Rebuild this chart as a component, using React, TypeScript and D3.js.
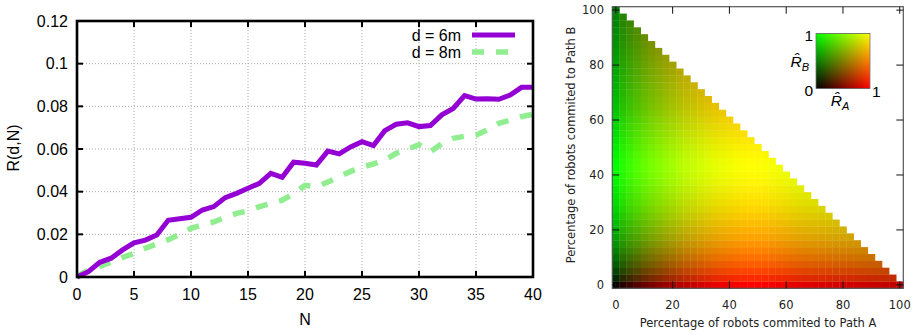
import React from "react";
import * as d3 from "d3";

// ---------- Left chart data ----------
const N_VALUES: number[] = d3.range(0, 41);
const R_D6: number[] = [
  0, 0.0025, 0.0069, 0.0088, 0.0127, 0.016, 0.0173, 0.0197, 0.0266, 0.0273,
  0.028, 0.0314, 0.033, 0.0372, 0.0392, 0.0416, 0.0439, 0.0486, 0.0467, 0.0538,
  0.0533, 0.0525, 0.059, 0.0577, 0.061, 0.0634, 0.0616, 0.0686, 0.0716, 0.0723,
  0.0705, 0.071, 0.076, 0.079, 0.085, 0.0834, 0.0835, 0.0833, 0.0853, 0.0889,
  0.089,
];
const R_D8: number[] = [
  0.0005, 0.003, 0.005, 0.007, 0.0092, 0.011, 0.0135, 0.0155, 0.0175, 0.02,
  0.0228, 0.0245, 0.0258, 0.028, 0.0298, 0.031, 0.033, 0.0345, 0.036, 0.039,
  0.043, 0.0423, 0.0445, 0.047, 0.0495, 0.0515, 0.053, 0.0548, 0.058, 0.06,
  0.062, 0.0587, 0.0625, 0.065, 0.066, 0.0665, 0.069, 0.072, 0.0735, 0.0752,
  0.0763,
];
const LEFT_X_TICKS = [0, 5, 10, 15, 20, 25, 30, 35, 40];
const LEFT_Y_TICKS = [0, 0.02, 0.04, 0.06, 0.08, 0.1, 0.12];
const SERIES_LABELS = ["d = 6m", "d = 8m"];

// ---------- Right chart data ----------
// Percentages committed to path A (columns) / path B (rows), step 2.5
const PCT_STEPS: number[] = d3.range(0, 41).map((i) => i * 2.5);
// Normalised performance of path A for each column (red channel)
const RHAT_A: number[] = [
  0.0, 0.15, 0.24, 0.32, 0.4, 0.47, 0.53, 0.59, 0.64, 0.7, 0.75, 0.79, 0.83,
  0.87, 0.9, 0.93, 0.95, 0.97, 0.99, 1.0, 1.0, 0.99, 0.97, 0.95, 0.93, 0.91,
  0.89, 0.88, 0.87, 0.86, 0.85, 0.84, 0.83, 0.82, 0.81, 0.8, 0.79, 0.78, 0.77,
  0.76, 0.74,
];
// Normalised performance of path B for each row (green channel)
const RHAT_B: number[] = [
  0.0, 0.16, 0.27, 0.36, 0.44, 0.51, 0.58, 0.64, 0.69, 0.74, 0.79, 0.83, 0.87,
  0.9, 0.93, 0.96, 0.98, 1.0, 0.99, 0.97, 0.94, 0.91, 0.88, 0.85, 0.82, 0.79,
  0.76, 0.74, 0.72, 0.7, 0.68, 0.66, 0.64, 0.62, 0.6, 0.58, 0.56, 0.55, 0.53,
  0.52, 0.5,
];
const RIGHT_TICKS = [0, 20, 40, 60, 80, 100];

export default function App() {
  // Left chart scales
  const x = d3.scaleLinear().domain([0, 40]).range([77, 533]);
  const y = d3.scaleLinear().domain([0, 0.12]).range([277, 21]);
  const line = d3
    .line<number>()
    .x((_, i) => x(N_VALUES[i]))
    .y((d) => y(d));

  // Right chart scales
  const xr = d3.scaleLinear().domain([-1.25, 101.25]).range([612.3, 903.3]);
  const yr = d3.scaleLinear().domain([-1.25, 101.25]).range([288.3, 6.7]);

  const cells: { key: string; x0: number; x1: number; y0: number; y1: number; fill: string }[] = [];
  PCT_STEPS.forEach((a, j) => {
    PCT_STEPS.forEach((b, k) => {
      if (j + k > 40) return;
      cells.push({
        key: `${j}-${k}`,
        x0: xr(a - 1.25),
        x1: xr(a + 1.25),
        y0: yr(b + 1.25),
        y1: yr(b - 1.25),
        fill: d3.rgb(RHAT_A[j] * 255, RHAT_B[k] * 255, 0).toString(),
      });
    });
  });

  const leftFont = "'Liberation Sans', Arial, sans-serif";
  const rightFont = "'DejaVu Sans', sans-serif";

  // legend inset
  const lg = { x: 816, y: 33.5, w: 54, h: 55 };

  return (
    <svg
      width={916}
      height={335}
      style={{ position: "absolute", left: 0, top: 0, background: "#fff" }}
    >
      <defs>
        <linearGradient id="gradR" x1="0" y1="0" x2="1" y2="0">
          <stop offset="0" stopColor="#000" />
          <stop offset="1" stopColor="#f00" />
        </linearGradient>
        <linearGradient id="gradG" x1="0" y1="1" x2="0" y2="0">
          <stop offset="0" stopColor="#000" />
          <stop offset="1" stopColor="#0f0" />
        </linearGradient>
      </defs>

      {/* ================= LEFT CHART ================= */}
      <g fontFamily={leftFont} fontSize={16} fill="#000">
        {/* grid */}
        {LEFT_X_TICKS.slice(1, -1).map((t) => (
          <line key={"gx" + t} x1={x(t)} x2={x(t)} y1={y(0)} y2={y(0.12)} stroke="#aaa" strokeWidth={1} strokeDasharray="1,2" />
        ))}
        {LEFT_Y_TICKS.slice(1, -1).map((t) => (
          <line key={"gy" + t} x1={x(0)} x2={x(40)} y1={y(t)} y2={y(t)} stroke="#aaa" strokeWidth={1} strokeDasharray="1,2" />
        ))}

        {/* series */}
        <path d={line(R_D8) || ""} fill="none" stroke="#90ee90" strokeWidth={5.5} strokeDasharray="12,12" />
        <path d={line(R_D6) || ""} fill="none" stroke="#9400d3" strokeWidth={5} strokeLinejoin="miter" />

        {/* ticks */}
        {LEFT_X_TICKS.map((t) => (
          <g key={"tx" + t}>
            <line x1={x(t)} x2={x(t)} y1={y(0)} y2={y(0) - 6} stroke="#000" strokeWidth={2} />
            <line x1={x(t)} x2={x(t)} y1={y(0.12)} y2={y(0.12) + 6} stroke="#000" strokeWidth={2} />
            <text x={x(t)} y={300} textAnchor="middle">{t}</text>
          </g>
        ))}
        {LEFT_Y_TICKS.map((t) => (
          <g key={"ty" + t}>
            <line x1={x(0)} x2={x(0) + 6} y1={y(t)} y2={y(t)} stroke="#000" strokeWidth={2} />
            <line x1={x(40)} x2={x(40) - 6} y1={y(t)} y2={y(t)} stroke="#000" strokeWidth={2} />
            <text x={68} y={y(t) + 5.5} textAnchor="end">{t === 0 ? "0" : String(t)}</text>
          </g>
        ))}

        {/* frame */}
        <rect x={x(0)} y={y(0.12)} width={x(40) - x(0)} height={y(0) - y(0.12)} fill="none" stroke="#000" strokeWidth={2.6} />

        {/* axis titles */}
        <text x={305} y={325} textAnchor="middle">N</text>
        <text transform="translate(19,148) rotate(-90)" textAnchor="middle">R(d,N)</text>

        {/* legend */}
        <text x={461} y={40.5} textAnchor="end">{SERIES_LABELS[0]}</text>
        <text x={461} y={57.5} textAnchor="end">{SERIES_LABELS[1]}</text>
        <line x1={472} x2={515} y1={35} y2={35} stroke="#9400d3" strokeWidth={5} />
        <line x1={472} x2={515} y1={52} y2={52} stroke="#90ee90" strokeWidth={5.5} strokeDasharray="12,12" />
      </g>

      {/* ================= RIGHT CHART ================= */}
      <g fontFamily={rightFont} fontSize={11.5} fill="#222">
        {cells.map((c) => (
          <rect key={c.key} x={c.x0} y={c.y0} width={c.x1 - c.x0 + 0.3} height={c.y1 - c.y0 + 0.3} fill={c.fill} />
        ))}

        {/* frame */}
        <rect x={612.3} y={6.7} width={903.3 - 612.3} height={288.3 - 6.7} fill="none" stroke="#555" strokeWidth={1.2} />

        {/* ticks */}
        {RIGHT_TICKS.map((t) => (
          <g key={"rt" + t}>
            <line x1={xr(t)} x2={xr(t)} y1={288.3} y2={288.3 - 7} stroke="#111" strokeWidth={1} />
            <line x1={xr(t)} x2={xr(t)} y1={6.7} y2={6.7 + 7} stroke="#111" strokeWidth={1} />
            <line x1={612.3} x2={612.3 + 7} y1={yr(t)} y2={yr(t)} stroke="#111" strokeWidth={1} />
            <line x1={903.3} x2={903.3 - 7} y1={yr(t)} y2={yr(t)} stroke="#111" strokeWidth={1} />
            <text x={xr(t)} y={309} textAnchor="middle">{t}</text>
            <text x={604} y={yr(t) + 4} textAnchor="end">{t}</text>
          </g>
        ))}

        {/* axis titles */}
        <text x={758} y={327} textAnchor="middle">Percentage of robots commited to Path A</text>
        <text transform="translate(575,145) rotate(-90)" textAnchor="middle">Percentage of robots commited to Path B</text>

        {/* inset colour key */}
        <g style={{ isolation: "isolate" }}>
          <rect x={lg.x} y={lg.y} width={lg.w} height={lg.h} fill="#000" />
          <rect x={lg.x} y={lg.y} width={lg.w} height={lg.h} fill="url(#gradR)" style={{ mixBlendMode: "screen" }} />
          <rect x={lg.x} y={lg.y} width={lg.w} height={lg.h} fill="url(#gradG)" style={{ mixBlendMode: "screen" }} />
        </g>
        <rect x={lg.x} y={lg.y} width={lg.w} height={lg.h} fill="none" stroke="#777" strokeWidth={0.8} />
        <g fontFamily={leftFont} fontSize={15.5} fill="#000">
          <text x={lg.x - 3} y={lg.y + 7} textAnchor="end">1</text>
          <text x={lg.x - 3} y={lg.y + lg.h + 7} textAnchor="end">0</text>
          <text x={lg.x + lg.w + 2} y={lg.y + lg.h + 8}>1</text>
          <text x={lg.x - 7} y={lg.y + 33} textAnchor="end" fontStyle="italic">
            {"R\u0302"}
            <tspan fontSize={11} dy={4}>B</tspan>
          </text>
          <text x={lg.x + 24} y={lg.y + 72} textAnchor="middle" fontStyle="italic">
            {"R\u0302"}
            <tspan fontSize={11} dy={4}>A</tspan>
          </text>
        </g>
      </g>
    </svg>
  );
}
